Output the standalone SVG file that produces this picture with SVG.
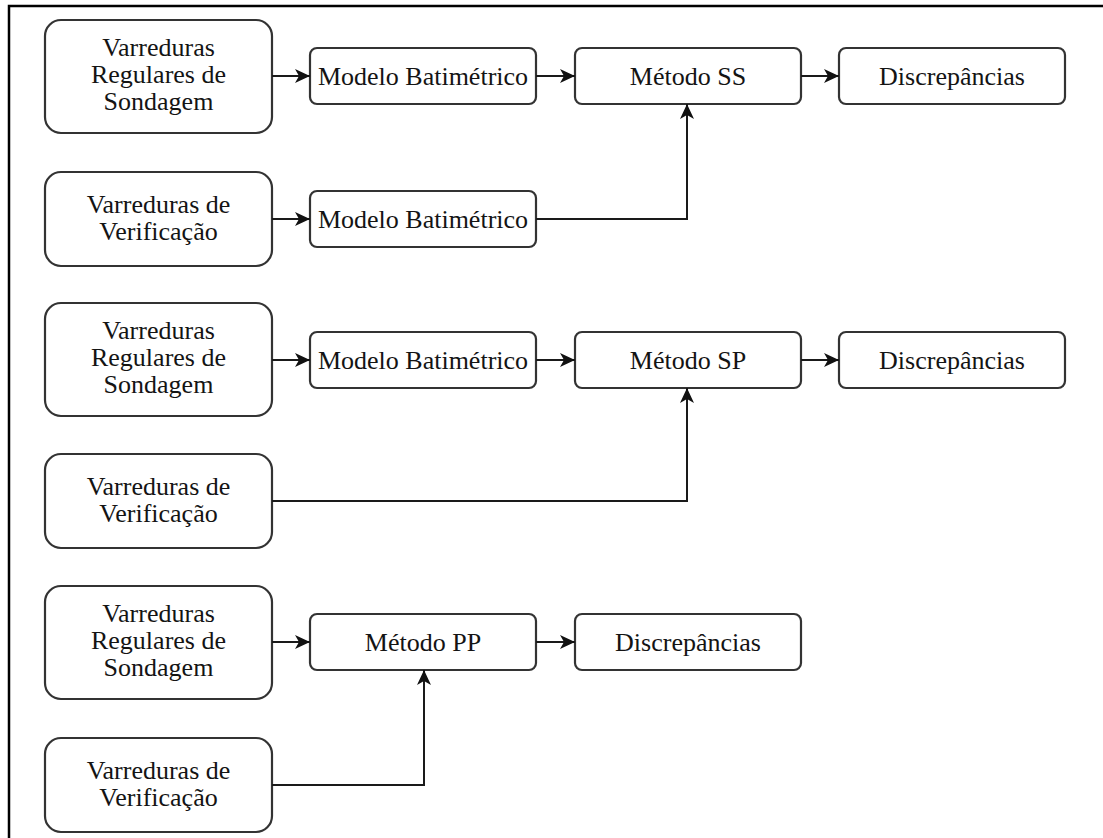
<svg xmlns="http://www.w3.org/2000/svg" width="1103" height="838" viewBox="0 0 1103 838">
  <style>
    .big { fill: #ffffff; stroke: #333333; stroke-width: 2.2; }
    .small { fill: #ffffff; stroke: #333333; stroke-width: 2.2; }
    .lbl { font-family: "Liberation Serif", "DejaVu Serif", serif; font-size: 26px; fill: #141414; text-anchor: middle; }
    .edge { fill: none; stroke: #1a1a1a; stroke-width: 2; marker-end: url(#arrow); }
  </style>
  <defs>
    <marker id="arrow" markerUnits="userSpaceOnUse" markerWidth="16" markerHeight="14" refX="15" refY="7" orient="auto">
      <path d="M0,0 L15,7 L0,14 L4,7 Z" fill="#111111"/>
    </marker>
  </defs>

  <rect width="1103" height="838" fill="#ffffff"/>
  <!-- outer frame -->
  <rect x="9" y="6" width="1110" height="850" fill="none" stroke="#000000" stroke-width="2.5"/>

  <!-- Block 1: SS -->
  <g id="vr1">
    <rect class="big" x="45" y="20" width="227" height="113" rx="16"/>
    <text class="lbl" x="158.5" y="56" font-family="Liberation Serif, DejaVu Serif, serif">Varreduras</text>
    <text class="lbl" x="158.5" y="83" font-family="Liberation Serif, DejaVu Serif, serif">Regulares de</text>
    <text class="lbl" x="158.5" y="110" font-family="Liberation Serif, DejaVu Serif, serif">Sondagem</text>
  </g>
  <g id="mb1">
    <rect class="small" x="310" y="48" width="226" height="56" rx="7"/>
    <text class="lbl" x="423" y="85">Modelo Batimétrico</text>
  </g>
  <g id="ss">
    <rect class="small" x="575" y="48" width="226" height="56" rx="7"/>
    <text class="lbl" x="688" y="85">Método SS</text>
  </g>
  <g id="disc1">
    <rect class="small" x="839" y="48" width="226" height="56" rx="7"/>
    <text class="lbl" x="952" y="85">Discrepâncias</text>
  </g>
  <g id="vv1">
    <rect class="big" x="45" y="172" width="227" height="94" rx="16"/>
    <text class="lbl" x="158.5" y="213">Varreduras de</text>
    <text class="lbl" x="158.5" y="240">Verificação</text>
  </g>
  <g id="mb2">
    <rect class="small" x="310" y="191" width="226" height="56" rx="7"/>
    <text class="lbl" x="423" y="228">Modelo Batimétrico</text>
  </g>

  <!-- Block 2: SP -->
  <g id="vr2">
    <rect class="big" x="45" y="303" width="227" height="113" rx="16"/>
    <text class="lbl" x="158.5" y="339">Varreduras</text>
    <text class="lbl" x="158.5" y="366">Regulares de</text>
    <text class="lbl" x="158.5" y="393">Sondagem</text>
  </g>
  <g id="mb3">
    <rect class="small" x="310" y="332" width="226" height="56" rx="7"/>
    <text class="lbl" x="423" y="369">Modelo Batimétrico</text>
  </g>
  <g id="sp">
    <rect class="small" x="575" y="332" width="226" height="56" rx="7"/>
    <text class="lbl" x="688" y="369">Método SP</text>
  </g>
  <g id="disc2">
    <rect class="small" x="839" y="332" width="226" height="56" rx="7"/>
    <text class="lbl" x="952" y="369">Discrepâncias</text>
  </g>
  <g id="vv2">
    <rect class="big" x="45" y="454" width="227" height="94" rx="16"/>
    <text class="lbl" x="158.5" y="495">Varreduras de</text>
    <text class="lbl" x="158.5" y="522">Verificação</text>
  </g>

  <!-- Block 3: PP -->
  <g id="vr3">
    <rect class="big" x="45" y="586" width="227" height="113" rx="16"/>
    <text class="lbl" x="158.5" y="622">Varreduras</text>
    <text class="lbl" x="158.5" y="649">Regulares de</text>
    <text class="lbl" x="158.5" y="676">Sondagem</text>
  </g>
  <g id="pp">
    <rect class="small" x="310" y="614" width="226" height="56" rx="7"/>
    <text class="lbl" x="423" y="651">Método PP</text>
  </g>
  <g id="disc3">
    <rect class="small" x="575" y="614" width="226" height="56" rx="7"/>
    <text class="lbl" x="688" y="651">Discrepâncias</text>
  </g>
  <g id="vv3">
    <rect class="big" x="45" y="738" width="227" height="94" rx="16"/>
    <text class="lbl" x="158.5" y="779">Varreduras de</text>
    <text class="lbl" x="158.5" y="806">Verificação</text>
  </g>

  <!-- connectors -->
  <g id="connectors">
    <path class="edge" d="M272,76 L310,76"/>
    <path class="edge" d="M536,76 L575,76"/>
    <path class="edge" d="M801,76 L839,76"/>
    <path class="edge" d="M272,219 L310,219"/>
    <path class="edge" d="M536,219 L687,219 L687,104"/>

    <path class="edge" d="M272,360 L310,360"/>
    <path class="edge" d="M536,360 L575,360"/>
    <path class="edge" d="M801,360 L839,360"/>
    <path class="edge" d="M272,501 L687,501 L687,388"/>

    <path class="edge" d="M272,642 L310,642"/>
    <path class="edge" d="M536,642 L575,642"/>
    <path class="edge" d="M272,785 L424,785 L424,670"/>
  </g>
</svg>
